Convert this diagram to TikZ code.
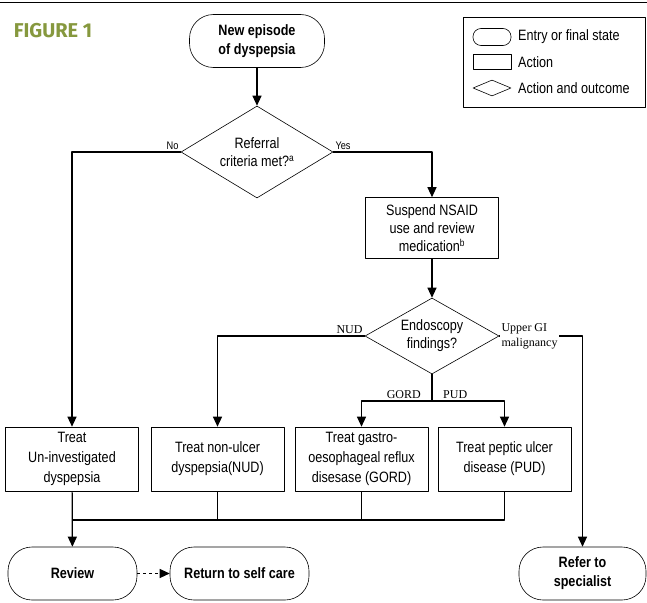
\documentclass[tikz,border=0pt]{standalone}
\usepackage{fontspec}
\setmainfont{Liberation Sans}[FakeStretch=0.84]
\newfontfamily\labelfont{Liberation Serif}
\newfontfamily\titlefont{Fira Sans}
\usetikzlibrary{arrows.meta,shapes.geometric}
\definecolor{figgreen}{RGB}{134,152,62}
\begin{document}
\begin{tikzpicture}[x=1pt, y=-1pt, font=\fontsize{15}{18}\selectfont, line join=round,
	>={Triangle[width=9pt,length=10pt]},
	flow/.style={line width=1.2pt},
	terminal/.style={draw, line width=0.6pt, rounded corners=24pt, minimum height=53pt, align=center, inner sep=2pt, font=\fontsize{15}{19}\selectfont\bfseries},
	action/.style={draw, line width=0.6pt, minimum width=133pt, minimum height=64pt, align=center, inner sep=2pt, font=\fontsize{15}{20}\selectfont},
	decision/.style={draw, line width=0.6pt, diamond, aspect=1.63, inner sep=0pt, align=center},
	yesno/.style={font=\fontsize{11}{13}\selectfont, inner sep=2pt},
	finding/.style={font=\labelfont\fontsize{12}{14}\selectfont, inner sep=2pt}]
	\useasboundingbox (0,0) rectangle (647,602);
	\draw[line width=1pt] (0,3) -- (647,3);
	\node[text=figgreen, font=\titlefont\bfseries\fontsize{20}{22}\selectfont] (title) at (53,31) {FIGURE 1};
	% legend
	\draw[line width=0.8pt] (463,17) rectangle (645,107);
	\node[draw, line width=0.6pt, rounded corners=8pt, minimum width=38pt, minimum height=17pt, inner sep=0pt] (legEntry) at (492,37) {};
	\node[draw, line width=0.6pt, minimum width=38pt, minimum height=15pt, inner sep=0pt] (legAction) at (492,62) {};
	\node[draw, line width=0.6pt, diamond, aspect=2.4, minimum width=38pt, minimum height=16pt, inner sep=0pt] (legOutcome) at (492,88) {};
	\node[anchor=west, inner sep=0pt] (txtEntry) at (518,37) {Entry or final state};
	\node[anchor=west, inner sep=0pt] (txtAction) at (518,62) {Action};
	\node[anchor=west, inner sep=0pt] (txtOutcome) at (518,88) {Action and outcome};
	% flow chart
	\node[terminal, minimum width=135pt] (start) at (257,41) {New episode\\of dyspepsia};
	\node[decision, minimum width=152pt, minimum height=92pt] (referral) at (257,152) {Referral\\criteria met?\textsuperscript{\fontsize{10}{10}\selectfont a}};
	\node[action, minimum height=61pt, font=\fontsize{15}{18}\selectfont] (suspend) at (432,228) {Suspend NSAID\\use and review\\medication\textsuperscript{\fontsize{10}{10}\selectfont b}};
	\node[decision, minimum width=134pt, minimum height=76pt] (endoscopy) at (432,336) {Endoscopy\\findings?};
	\node[action] (treatUI) at (72,459) {Treat\\Un-investigated\\dyspepsia};
	\node[action] (treatNUD) at (217.5,459) {Treat non-ulcer\\dyspepsia(NUD)};
	\node[action] (treatGORD) at (361.5,459) {Treat gastro-\\oesophageal reflux\\disesase (GORD)};
	\node[action] (treatPUD) at (504.5,459) {Treat peptic ulcer\\disease (PUD)};
	\node[terminal, minimum width=129pt] (review) at (72.5,573.5) {Review};
	\node[terminal, minimum width=139pt] (selfcare) at (239.5,573.5) {Return to self care};
	\node[terminal, minimum width=127pt] (refer) at (582.5,573.5) {Refer to\\specialist};
	\coordinate (split) at (432,401);
	\coordinate (merge) at (72,520);

	\draw[flow,->] (start) -- (referral);
	\draw[flow,->] (referral.west) -| (treatUI.north);
	\node[yesno, above left] (no) at (referral.west) {No};
	\draw[flow,->] (referral.east) -| (suspend.north);
	\node[yesno, above right] (yes) at (referral.east) {Yes};
	\draw[flow,->] (suspend) -- (endoscopy);
	\draw[flow,->] (endoscopy.west) -| (treatNUD.north);
	\node[finding, above left] (nud) at (endoscopy.west) {NUD};
	\draw[flow,->] (endoscopy.east) -| (refer.north);
	\node[finding, anchor=west, align=left, fill=white, font=\labelfont\fontsize{12}{15}\selectfont] (upperGI) at (endoscopy.east) {Upper GI\\malignancy};
	\draw[flow] (endoscopy.south) -- (split);
	\draw[flow,->] (split) -| (treatGORD.north);
	\draw[flow,->] (split) -| (treatPUD.north);
	\node[finding, above left] (gord) at ([xshift=-9pt]split) {GORD};
	\node[finding, above right] (pud) at ([xshift=9pt]split) {PUD};
	\draw[flow,->] (treatUI) -- (review);
	\draw[flow] (treatPUD.south) |- (merge);
	\draw[flow] (treatNUD.south) -- (treatNUD.south |- merge);
	\draw[flow] (treatGORD.south) -- (treatGORD.south |- merge);
	\draw[flow,dashed,->] (review) -- (selfcare);
\end{tikzpicture}
\end{document}
